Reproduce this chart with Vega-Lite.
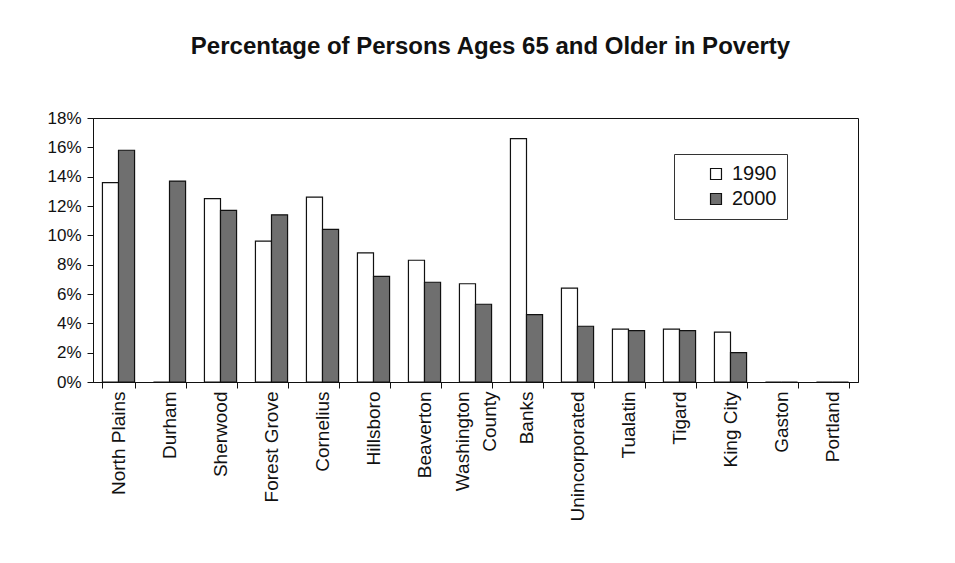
{
  "$schema": "https://vega.github.io/schema/vega-lite/v6.json",
  "width": 765,
  "height": 264,
  "autosize": {"type": "none"},
  "padding": {"left": 93, "top": 118, "right": 97, "bottom": 181},
  "background": "white",
  "title": {
    "text": "Percentage of Persons Ages 65 and Older in Poverty",
    "font": "Liberation Sans",
    "fontSize": 24,
    "fontWeight": "bold",
    "color": "#111",
    "anchor": "middle",
    "dx": 15,
    "offset": 50
  },
  "data": {
    "values": [
      {"place": "North Plains", "year": "1990", "pct": 0.136},
      {"place": "North Plains", "year": "2000", "pct": 0.158},
      {"place": "Durham", "year": "1990", "pct": 0},
      {"place": "Durham", "year": "2000", "pct": 0.137},
      {"place": "Sherwood", "year": "1990", "pct": 0.125},
      {"place": "Sherwood", "year": "2000", "pct": 0.117},
      {"place": "Forest Grove", "year": "1990", "pct": 0.096},
      {"place": "Forest Grove", "year": "2000", "pct": 0.114},
      {"place": "Cornelius", "year": "1990", "pct": 0.126},
      {"place": "Cornelius", "year": "2000", "pct": 0.104},
      {"place": "Hillsboro", "year": "1990", "pct": 0.088},
      {"place": "Hillsboro", "year": "2000", "pct": 0.072},
      {"place": "Beaverton", "year": "1990", "pct": 0.083},
      {"place": "Beaverton", "year": "2000", "pct": 0.068},
      {"place": "Washington County", "year": "1990", "pct": 0.067},
      {"place": "Washington County", "year": "2000", "pct": 0.053},
      {"place": "Banks", "year": "1990", "pct": 0.166},
      {"place": "Banks", "year": "2000", "pct": 0.046},
      {"place": "Unincorporated", "year": "1990", "pct": 0.064},
      {"place": "Unincorporated", "year": "2000", "pct": 0.038},
      {"place": "Tualatin", "year": "1990", "pct": 0.036},
      {"place": "Tualatin", "year": "2000", "pct": 0.035},
      {"place": "Tigard", "year": "1990", "pct": 0.036},
      {"place": "Tigard", "year": "2000", "pct": 0.035},
      {"place": "King City", "year": "1990", "pct": 0.034},
      {"place": "King City", "year": "2000", "pct": 0.020},
      {"place": "Gaston", "year": "1990", "pct": 0},
      {"place": "Gaston", "year": "2000", "pct": 0},
      {"place": "Portland", "year": "1990", "pct": 0},
      {"place": "Portland", "year": "2000", "pct": 0}
    ]
  },
  "mark": {"type": "bar", "stroke": "#111", "strokeWidth": 1.2},
  "encoding": {
    "x": {
      "field": "place",
      "type": "nominal",
      "sort": null,
      "scale": {"paddingInner": 0.37, "paddingOuter": 0.185},
      "axis": {
        "title": null,
        "labelAngle": -90,
        "labelAlign": "right",
        "labelBaseline": "middle",
        "labelFont": "Liberation Sans",
        "labelFontSize": 19,
        "labelColor": "#111",
        "labelPadding": 3,
        "labelLineHeight": 27,
        "labelOffset": {"condition": {"test": "datum.value == 'Washington County'", "value": -13}, "value": 0},
        "labelExpr": "datum.label == 'Washington County' ? ['Washington', 'County'] : datum.label",
        "tickBand": "extent",
        "tickSize": 6,
        "tickColor": "#111",
        "domainColor": "#111",
        "labelLimit": 300
      }
    },
    "xOffset": {"field": "year", "type": "nominal", "scale": {"paddingInner": 0, "paddingOuter": 0}},
    "y": {
      "field": "pct",
      "type": "quantitative",
      "scale": {"domain": [0, 0.18], "nice": false},
      "axis": {
        "title": null,
        "format": ".0%",
        "values": [0, 0.02, 0.04, 0.06, 0.08, 0.1, 0.12, 0.14, 0.16, 0.18],
        "grid": false,
        "labelFont": "Liberation Sans",
        "labelFontSize": 17,
        "labelColor": "#111",
        "labelPadding": 6,
        "tickSize": 6,
        "tickColor": "#111",
        "domainColor": "#111"
      }
    },
    "fill": {
      "field": "year",
      "type": "nominal",
      "scale": {"domain": ["1990", "2000"], "range": ["#ffffff", "#6f6f6f"]},
      "legend": {
        "title": null,
        "orient": "none",
        "legendX": 581,
        "legendY": 36,
        "symbolType": "square",
        "symbolSize": 120,
        "symbolStrokeColor": "#111",
        "symbolStrokeWidth": 1.2,
        "labelFont": "Liberation Sans",
        "labelFontSize": 20,
        "labelColor": "#111",
        "labelOffset": 6,
        "rowPadding": 5,
        "strokeColor": "#333",
        "padding": 10,
        "symbolOffset": 22
      }
    }
  },
  "config": {
    "view": {"stroke": "#111", "strokeWidth": 1}
  }
}
